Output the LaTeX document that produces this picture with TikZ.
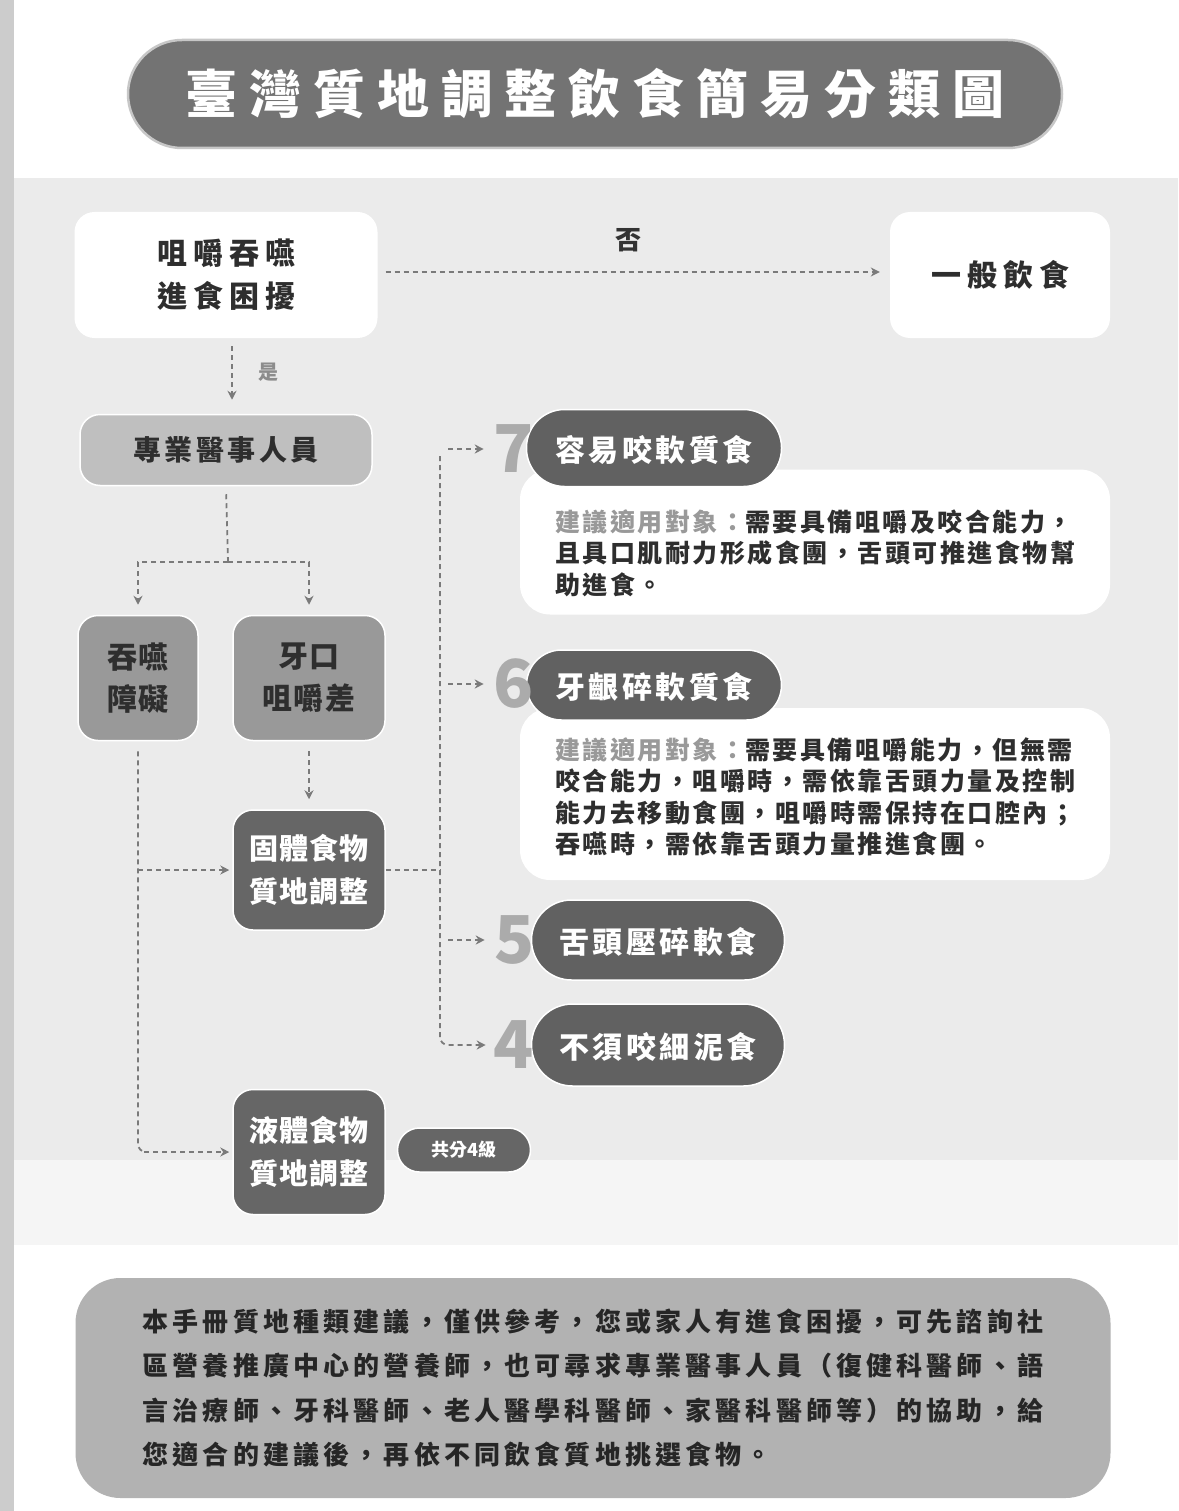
\documentclass[tikz,border=0pt]{standalone}
\usepackage{fontspec}
\newfontfamily\tc{Noto Sans CJK TC}
\usetikzlibrary{arrows.meta}
\tikzset{
  conn/.style={draw=black!52, line width=1.8pt, dash pattern=on 5pt off 4pt},
  arr/.style={conn, -{Stealth[length=9pt,width=9pt]}},
  box/.style={rounded corners=20pt, inner sep=0pt, align=center},
  whitebox/.style={box, fill=white, text=black!82,
    font=\tc\bfseries\fontsize{30}{43}\selectfont\addfontfeature{LetterSpace=20}},
  midbox/.style={box, fill=black!40, draw=white, line width=1.5pt, text=black!82,
    font=\tc\bfseries\fontsize{30}{42}\selectfont\addfontfeature{LetterSpace=4}},
  darkbox/.style={box, fill=black!60, draw=white, line width=1.5pt, text=white,
    font=\tc\bfseries\fontsize{29}{43}\selectfont\addfontfeature{LetterSpace=4}},
  pill/.style={box, fill=black!62, draw=white, line width=1.5pt, text=white,
    minimum width=255pt, text depth=0pt,
    font=\tc\bfseries\fontsize{30}{36}\selectfont\addfontfeature{LetterSpace=12}},
  descbox/.style={box, rounded corners=30pt, fill=white, minimum width=590pt},
  desctext/.style={inner sep=0pt, align=left, anchor=west, text=black!82,
    font=\tc\bfseries\fontsize{25}{31.5}\selectfont\addfontfeature{LetterSpace=10}},
  digit/.style={inner sep=0pt, text=black!33, font=\tc\bfseries\fontsize{66}{66}\selectfont},
  lbl/.style={inner sep=0pt, font=\tc\bfseries\fontsize{26}{26}\selectfont}
}
\begin{document}
\begin{tikzpicture}[x=1pt,y=-1pt]
\useasboundingbox (0,0) rectangle (1178,1511);
% background
\fill[white] (0,0) rectangle (1178,1511);
\fill[black!8] (14,178) rectangle (1178,1160);
\fill[black!4] (14,1160) rectangle (1178,1245);
\fill[black!20] (0,0) rectangle (14,1511);

% title
\node[box, rounded corners=54pt, minimum width=934pt, minimum height=108pt,
  fill=black!55, draw=black!22, line width=2.5pt, text=white,
  font=\tc\bfseries\fontsize{52}{60}\selectfont\addfontfeature{LetterSpace=23}]
  (title) at (595,94) {臺灣質地調整飲食簡易分類圖};

% top row
\node[whitebox, minimum width=303pt, minimum height=126pt] (q) at (226,275) {咀嚼吞嚥\\進食困擾};
\node[whitebox, minimum width=220pt, minimum height=126pt] (gen) at (1000,275) {一般飲食};
\draw[arr, shorten <=8pt, shorten >=10pt] ([yshift=3pt]q.east) -- ([yshift=3pt]gen.west);
\node[lbl, text=black!80] (no) at (628,240) {否};

\node[box, fill=black!25, draw=white, line width=1.5pt, minimum width=292pt, minimum height=71pt,
  text=black!82, font=\tc\bfseries\fontsize{28}{30}\selectfont\addfontfeature{LetterSpace=12}]
  (pro) at (226,450) {專業醫事人員};
\draw[arr, shorten <=8pt, shorten >=14pt] ([xshift=6pt]q.south) -- ([xshift=6pt]q.south |- pro.north);
\node[lbl, text=black!45, font=\tc\bfseries\fontsize{20}{20}\selectfont] (yes) at (268,372) {是};

% split
\node[midbox, minimum width=120pt, minimum height=125pt] (swal) at (138,678) {吞嚥\\障礙};
\node[midbox, minimum width=152pt, minimum height=125pt] (teeth) at (309,678) {牙口\\咀嚼差};
\coordinate (sp) at (228,562);
\draw[conn, shorten <=8pt] (pro.south) -- (sp);
\draw[arr, shorten >=10pt] (sp) -| (swal.north);
\draw[arr, shorten >=10pt] (sp) -| (teeth.north);

\node[darkbox, minimum width=152pt, minimum height=120pt] (solid) at (309,870) {固體食物\\質地調整};
\node[darkbox, minimum width=152pt, minimum height=125pt] (liquid) at (309,1152) {液體食物\\質地調整};
\draw[arr, shorten <=10pt, shorten >=10pt] (teeth.south) -- (solid.north);

\draw[conn, shorten <=10pt, rounded corners=8pt] (swal.south) -- (swal.south |- liquid.west) -- ([xshift=-88pt]liquid.west);
\draw[arr, shorten >=3pt] ([xshift=-88pt]liquid.west) -- (liquid.west);
\draw[arr, shorten >=3pt] (swal.south |- solid.west) -- (solid.west);

\node[box, rounded corners=22pt, fill=black!60, draw=white, line width=1.5pt,
  minimum width=133pt, minimum height=44pt, text=white,
  font=\tc\bfseries\fontsize{18}{20}\selectfont] (lvl) at (464,1150) {共分4級};

% levels
\node[descbox, minimum height=145pt] (d7) at (815,542) {};
\node[descbox, minimum height=172pt] (d6) at (815,794) {};
\node[pill, minimum height=77pt, rounded corners=38pt] (p7) at (654,448) {容易咬軟質食};
\node[pill, minimum height=70pt, rounded corners=35pt] (p6) at (654,685) {牙齦碎軟質食};
\node[pill, minimum width=253pt, minimum height=80pt, rounded corners=40pt] (p5) at (658,940) {舌頭壓碎軟食};
\node[pill, minimum width=253pt, minimum height=82pt, rounded corners=41pt] (p4) at (658,1045) {不須咬細泥食};
\node[digit] (n7) at (514,449) {7};
\node[digit] (n6) at (514,684) {6};
\node[digit] (n5) at (515,940) {5};
\node[digit] (n4) at (514,1045) {4};

\node[desctext] (t7) at (555,553) {{\color{black!40}建議適用對象：}需要具備咀嚼及咬合能力，\\
且具口肌耐力形成食團，舌頭可推進食物幫\\助進食。};
\node[desctext] (t6) at (555,797) {{\color{black!40}建議適用對象：}需要具備咀嚼能力，但無需\\
咬合能力，咀嚼時，需依靠舌頭力量及控制\\能力去移動食團，咀嚼時需保持在口腔內；\\吞嚥時，需依靠舌頭力量推進食團。};

% trunk
\coordinate (bus) at (440,870);
\coordinate (bustop) at (440,456);
\draw[conn] (solid.east) -- (bus);
\draw[conn, rounded corners=8pt] (bustop) -- (bus |- n4.west) -- ([xshift=-12pt]n4.west);
\draw[arr, shorten >=8pt] ([xshift=-12pt]n4.west) -- (n4.west);
\draw[arr, shorten <=8pt, shorten >=10pt] (bus |- n7.west) -- (n7.west);
\draw[arr, shorten <=8pt, shorten >=10pt] (bus |- n6.west) -- (n6.west);
\draw[arr, shorten <=8pt, shorten >=10pt] (bus |- n5.west) -- (n5.west);

% bottom note
\node[box, rounded corners=45pt, fill=black!30, minimum width=1035pt, minimum height=220pt,
  align=left, text=black!85,
  font=\tc\bfseries\fontsize{26}{44.5}\selectfont\addfontfeature{LetterSpace=16}]
  (note) at (593,1388) {本手冊質地種類建議，僅供參考，您或家人有進食困擾，可先諮詢社\\
區營養推廣中心的營養師，也可尋求專業醫事人員（復健科醫師、語\\
言治療師、牙科醫師、老人醫學科醫師、家醫科醫師等）的協助，給\\
您適合的建議後，再依不同飲食質地挑選食物。};
\end{tikzpicture}
\end{document}
